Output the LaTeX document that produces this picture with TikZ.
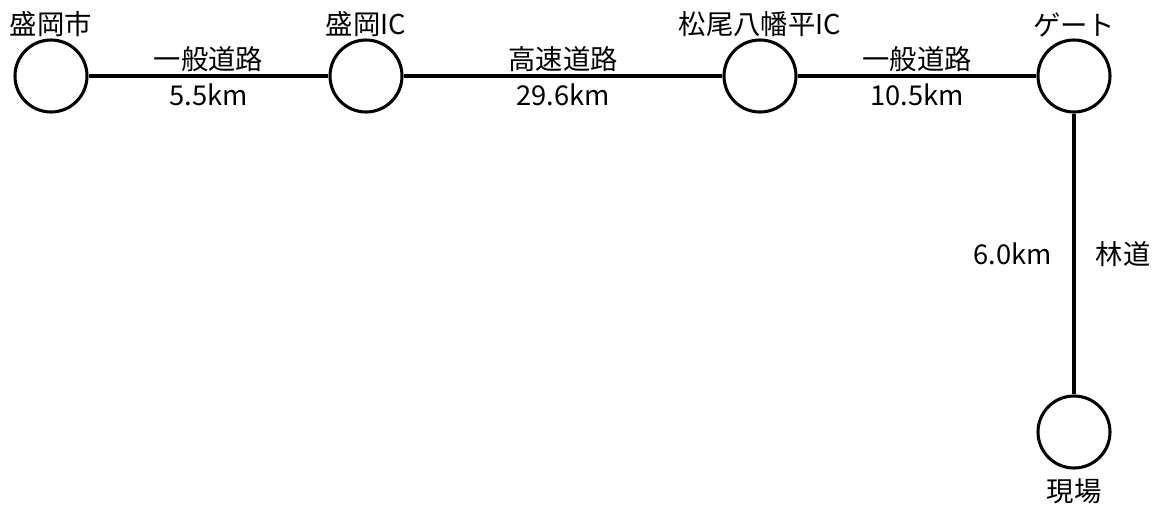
\documentclass[tikz,border=0pt]{standalone}
\usepackage{fontspec}
\setmainfont{Noto Sans CJK JP}
\tikzstyle{place}=[circle,draw,line width=2.3pt,minimum size=54pt,inner sep=0pt]
\tikzstyle{road}=[line width=2.3pt]

\begin{document}
\begin{tikzpicture}[x=0.75pt,y=-0.75pt,font=\fontsize{20.5}{24}\selectfont]
\useasboundingbox (0,0) rectangle (1165,511);
\node[place,label={[name=lmorioka,inner sep=1pt]above:盛岡市}] at (51, 76) (morioka) {};
\node[place,label={[name=lic,inner sep=1pt]above:盛岡IC}] at (366, 76) (ic) {};
\node[place,label={[name=lmatsuo,inner sep=1pt]above:松尾八幡平IC}] at (760, 76) (matsuo) {};
\node[place,label={[name=lgate,inner sep=1pt]above:ゲート}] at (1074, 76) (gate) {};
\node[place,label={[name=lsite,inner sep=1pt,label distance=6pt]below:現場}] at (1074, 432) (site) {};
\draw[road] (morioka) edge node[anchor = south, inner sep = 2pt] {一般道路} node[anchor = north, inner sep = 5pt] {5.5km} (ic);
\draw[road] (ic) edge node[anchor = south, inner sep = 2pt] {高速道路} node[anchor = north, inner sep = 5pt] {29.6km} (matsuo);
\draw[road] (matsuo) edge node[anchor = south, inner sep = 2pt] {一般道路} node[anchor = north, inner sep = 5pt] {10.5km} (gate);
\draw[road] (gate) edge node[anchor = east, xshift = -12] {6.0km} node[anchor = west, xshift = 12] {林道} (site);
\end{tikzpicture}
\end{document}
